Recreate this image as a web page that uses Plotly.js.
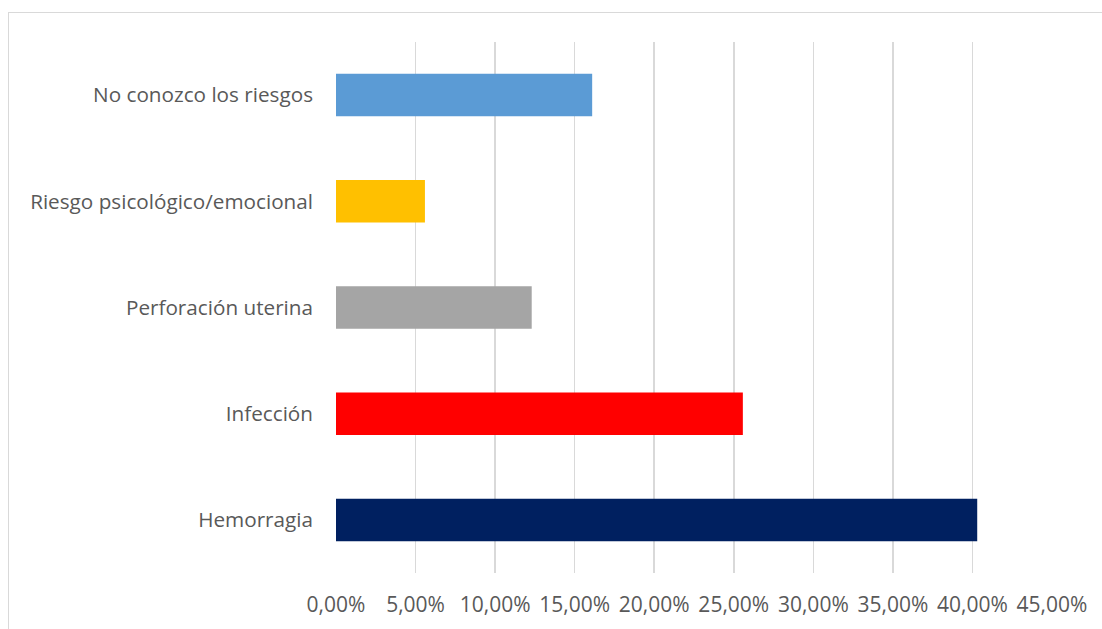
<!DOCTYPE html>
<html>
<head>
<meta charset="utf-8">
<script src="https://cdn.plot.ly/plotly-3.0.1.min.js"></script>
<style>
  html, body { margin: 0; padding: 0; background: #fff; overflow: hidden; }
  #frame { position: absolute; left: 8px; top: 12px; width: 1200px; height: 700px; border: 1.5px solid #D9D9D9; box-sizing: border-box; }
  #chart { position: absolute; left: 0; top: 0; width: 1102px; height: 629px; }
</style>
</head>
<body>
<div id="frame"></div>
<div id="chart"></div>
<script>
const categories = ["Hemorragia", "Infección", "Perforación uterina", "Riesgo psicológico/emocional", "No conozco los riesgos"];
const values = [0.403, 0.2557, 0.123, 0.0559, 0.161];
const barColors = ["#002060", "#FF0000", "#A5A5A5", "#FFC000", "#5B9BD5"];
const xTicks = [0, 0.05, 0.10, 0.15, 0.20, 0.25, 0.30, 0.35, 0.40, 0.45];

const trace = {
  type: "bar",
  orientation: "h",
  y: categories,
  x: values,
  marker: { color: barColors, line: { width: 0 } },
  hoverinfo: "none"
};

const layout = {
  width: 1102,
  height: 629,
  paper_bgcolor: "rgba(0,0,0,0)",
  plot_bgcolor: "rgba(0,0,0,0)",
  separators: ",.",
  margin: { l: 336, r: 50, t: 42, b: 56, pad: 0 },
  bargap: 0.6,
  showlegend: false,
  font: { family: "Open Sans, sans-serif", size: 20, color: "#595959" },
  xaxis: {
    range: [0, 0.45],
    tickvals: xTicks,
    tickformat: ".2%",
    showgrid: true,
    gridcolor: "#D9D9D9",
    gridwidth: 1.5,
    zeroline: false,
    showline: false,
    ticks: "",
    ticklabelstandoff: 17,
    tickfont: { family: "Open Sans, sans-serif", size: 21, color: "#595959" },
    fixedrange: true
  },
  yaxis: {
    type: "category",
    showgrid: false,
    zeroline: false,
    showline: false,
    ticks: "",
    ticklabelstandoff: 22,
    tickfont: { family: "Open Sans, sans-serif", size: 20.7, color: "#595959" },
    fixedrange: true
  }
};

Plotly.newPlot("chart", [trace], layout, { displayModeBar: false, staticPlot: true });
</script>
</body>
</html>
